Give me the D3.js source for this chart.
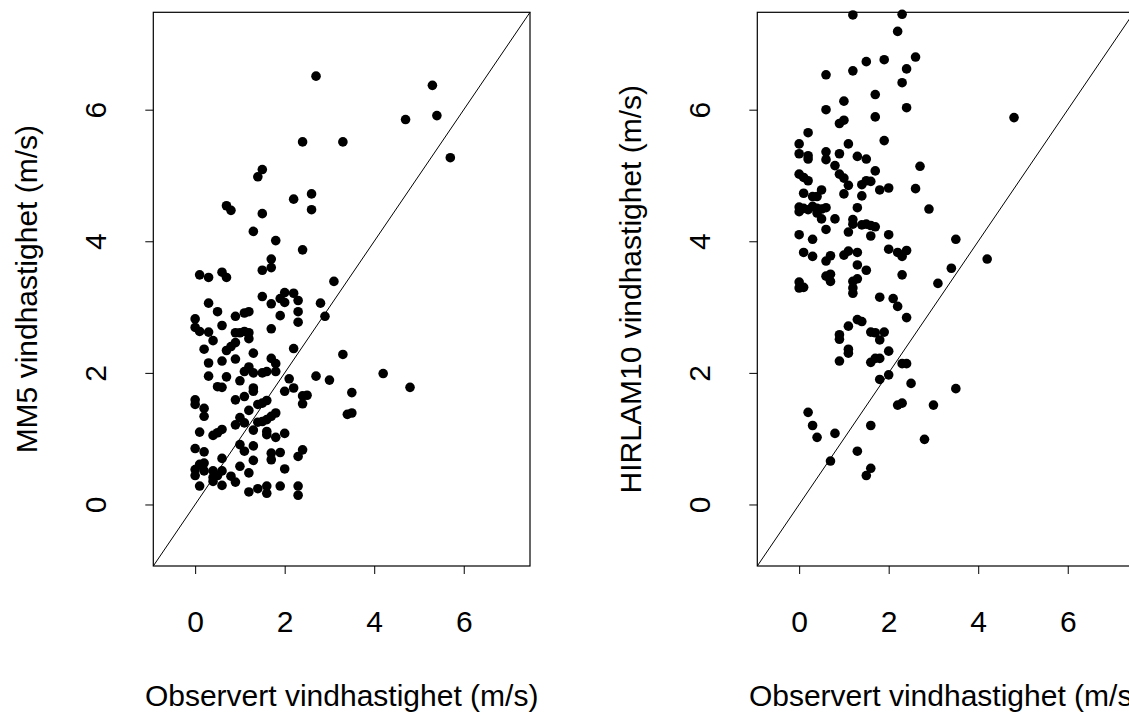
<!DOCTYPE html>
<html><head><meta charset="utf-8">
<script src="https://cdn.jsdelivr.net/npm/d3@7"></script>
<style>html,body{margin:0;padding:0;background:#fff;overflow:hidden}</style>
</head><body><svg id="chart" width="1129" height="713"></svg>
<script>
const tickValues = [0, 2, 4, 6];
const tickLabels = ["0", "2", "4", "6"];
const xTitle = "Observert vindhastighet (m/s)";
const yTitles = ["MM5 vindhastighet (m/s)", "HIRLAM10 vindhastighet (m/s)"];
const axisLimits = [-0.935, 7.48];

const mm5Obs = [2.7,5.3,4.7,5.4,2.4,3.3,5.7,1.5,1.4,2.6,2.2,2.6,0.7,0.8,1.5,1.3,1.8,2.4,1.7,1.7,1.5,0.1,0.3,0.6,0.7,3.1,1.5,2.0,2.2,1.9,2.0,2.3,1.7,2.8,0.3,0.5,0.9,1.1,1.2,1.9,2.3,2.9,2.3,0.0,0.0,0.1,0.3,0.6,1.7,0.9,1.0,1.1,1.2,1.2,0.4,0.9,0.8,0.7,0.2,2.2,1.3,3.3,1.7,0.3,0.6,0.9,1.8,1.2,1.1,1.3,1.5,1.6,1.8,0.3,0.7,1.0,2.1,2.7,3.0,4.2,4.8,0.5,0.6,1.3,1.3,2.2,2.0,3.5,0.9,1.1,0.0,0.0,0.2,0.2,1.6,1.4,1.5,1.2,2.4,2.5,2.4,1.8,1.7,1.6,1.5,1.4,1.0,1.1,0.9,1.3,1.6,1.6,1.8,2.0,3.4,3.5,0.1,0.4,0.5,0.6,0.0,0.2,1.0,1.1,1.3,1.3,1.7,1.7,1.9,2.3,2.4,0.6,1.0,1.2,2.0,0.0,0.0,0.1,0.2,0.2,0.4,0.4,0.5,0.4,0.6,0.8,0.9,0.1,0.6,1.2,1.4,1.6,1.6,1.9,2.3,2.3];
const mm5Model = [6.51,6.37,5.85,5.91,5.51,5.51,5.27,5.09,4.98,4.72,4.64,4.48,4.54,4.47,4.42,4.15,4.01,3.87,3.73,3.60,3.56,3.49,3.45,3.53,3.45,3.39,3.16,3.22,3.21,3.13,3.07,3.10,3.05,3.06,3.06,2.93,2.86,2.91,2.93,2.87,2.93,2.86,2.77,2.82,2.69,2.63,2.62,2.72,2.67,2.61,2.61,2.63,2.61,2.52,2.49,2.46,2.40,2.34,2.36,2.37,2.30,2.28,2.22,2.15,2.18,2.21,2.14,2.09,2.02,2.00,2.00,2.02,2.02,1.95,1.94,1.88,1.91,1.95,1.89,1.99,1.78,1.79,1.78,1.77,1.72,1.77,1.72,1.70,1.59,1.64,1.59,1.52,1.46,1.34,1.58,1.52,1.54,1.43,1.65,1.66,1.53,1.39,1.34,1.29,1.26,1.25,1.32,1.24,1.21,1.13,1.11,1.06,1.02,1.08,1.37,1.39,1.10,1.05,1.09,1.14,0.85,0.80,0.91,0.81,0.89,0.67,0.78,0.68,0.79,0.73,0.83,0.70,0.58,0.48,0.54,0.53,0.44,0.61,0.63,0.51,0.51,0.41,0.44,0.35,0.51,0.43,0.34,0.28,0.29,0.19,0.24,0.28,0.17,0.28,0.28,0.14];

const hirlamObs = [1.2,2.3,2.2,1.5,1.9,2.6,0.6,1.2,2.4,2.3,1.7,1.0,0.6,2.4,1.7,4.8,1.0,0.9,0.2,1.9,1.1,0.0,0.0,0.2,0.2,0.6,0.6,0.9,1.3,1.5,0.8,2.7,1.7,0.0,0.1,0.2,0.9,1.0,1.1,1.4,1.5,1.6,1.8,2.0,2.6,0.5,0.1,0.3,0.4,1.0,1.4,1.3,2.9,0.0,0.0,0.1,0.2,0.3,0.4,0.4,0.5,0.6,0.5,0.8,1.2,1.2,1.4,1.5,1.6,1.7,0.6,1.1,0.0,0.3,1.6,2.0,3.5,0.1,0.3,0.6,0.7,1.0,1.1,1.3,2.0,2.2,2.3,2.4,4.2,1.3,1.5,3.4,2.3,0.6,0.7,0.7,1.2,1.3,1.2,1.2,0.0,0.0,0.1,3.1,1.8,2.1,2.2,2.4,1.3,1.4,1.1,1.6,1.7,1.9,1.8,0.9,0.9,1.1,1.1,2.0,0.9,1.6,1.7,1.8,2.3,2.4,2.0,1.8,2.5,3.5,2.2,2.3,3.0,0.2,0.3,0.4,0.8,1.6,2.8,1.3,0.7,1.6,1.5];
const hirlamModel = [7.44,7.45,7.19,6.73,6.76,6.80,6.53,6.59,6.62,6.41,6.23,6.13,6.00,6.03,5.89,5.88,5.84,5.79,5.65,5.53,5.48,5.48,5.33,5.30,5.25,5.36,5.24,5.33,5.29,5.25,5.15,5.14,5.07,5.02,4.97,4.92,5.02,4.96,4.85,4.86,4.92,4.91,4.78,4.81,4.80,4.78,4.73,4.68,4.68,4.72,4.69,4.51,4.49,4.52,4.45,4.50,4.48,4.53,4.50,4.43,4.49,4.51,4.34,4.34,4.33,4.26,4.25,4.26,4.24,4.22,4.18,4.14,4.10,4.03,4.08,4.10,4.03,3.83,3.77,3.70,3.78,3.79,3.85,3.83,3.88,3.83,3.77,3.86,3.73,3.64,3.56,3.59,3.49,3.47,3.50,3.39,3.39,3.43,3.29,3.21,3.38,3.29,3.30,3.36,3.15,3.13,3.01,2.84,2.81,2.78,2.71,2.62,2.61,2.62,2.50,2.58,2.51,2.36,2.30,2.33,2.18,2.16,2.22,2.22,2.14,2.14,1.97,1.90,1.84,1.76,1.51,1.54,1.51,1.40,1.20,1.02,1.08,1.20,0.99,0.81,0.66,0.55,0.44];

const FONT = "'Liberation Sans', Arial, Helvetica, sans-serif";
const svg = d3.select("#chart");
svg.append("rect").attr("width", 1129).attr("height", 713).attr("fill", "#fff");

const panels = [
  {left: 153.3, obs: mm5Obs, mod: mm5Model, title: yTitles[0]},
  {left: 757.3, obs: hirlamObs, mod: hirlamModel, title: yTitles[1]}
];
const plotW = 376.7, plotTop = 12.3, plotBottom = 566;

panels.forEach(p => {
  const x = d3.scaleLinear().domain(axisLimits).range([p.left, p.left + plotW]);
  const y = d3.scaleLinear().domain(axisLimits).range([plotBottom, plotTop]);
  const g = svg.append("g");

  // points
  const pts = p.obs.map((o, i) => ({o, m: p.mod[i]}));
  g.append("g").selectAll("circle").data(pts).join("circle")
    .attr("cx", d => x(d.o)).attr("cy", d => y(d.m))
    .attr("r", 4.8).attr("fill", "#000");

  // 1:1 line corner to corner
  g.append("line")
    .attr("x1", x(axisLimits[0])).attr("y1", y(axisLimits[0]))
    .attr("x2", x(axisLimits[1])).attr("y2", y(axisLimits[1]))
    .attr("stroke", "#000").attr("stroke-width", 1);

  // box
  g.append("rect").attr("x", p.left).attr("y", plotTop)
    .attr("width", plotW).attr("height", plotBottom - plotTop)
    .attr("fill", "none").attr("stroke", "#000").attr("stroke-width", 1.2);

  // x axis
  const xa = g.append("g").attr("transform", `translate(0,${plotBottom})`)
    .call(d3.axisBottom(x).tickValues(tickValues).tickSize(8)
      .tickFormat((d, i) => tickLabels[i]));
  xa.select(".domain").remove();
  xa.selectAll("line").attr("stroke", "#000").attr("stroke-width", 1);
  xa.selectAll("text").attr("y", 632 - plotBottom).attr("dy", null)
    .attr("font-family", FONT).attr("font-size", 30).attr("fill", "#000");

  // y axis
  const ya = g.append("g").attr("transform", `translate(${p.left},0)`)
    .call(d3.axisLeft(y).tickValues(tickValues).tickSize(8)
      .tickFormat((d, i) => tickLabels[i]));
  ya.select(".domain").remove();
  ya.selectAll("line").attr("stroke", "#000").attr("stroke-width", 1);
  ya.selectAll("text").attr("x", null).attr("dy", null).attr("y", null)
    .attr("text-anchor", "middle")
    .attr("transform", "translate(-47.3,0) rotate(-90)")
    .attr("font-family", FONT).attr("font-size", 30).attr("fill", "#000");

  // titles
  g.append("text").attr("x", p.left + plotW / 2).attr("y", 706)
    .attr("text-anchor", "middle").attr("font-family", FONT).attr("font-size", 30)
    .attr("fill", "#000").text(xTitle);
  g.append("text")
    .attr("transform", `translate(${p.left - 116},${(plotTop + plotBottom) / 2}) rotate(-90)`)
    .attr("text-anchor", "middle").attr("font-family", FONT).attr("font-size", 30)
    .attr("fill", "#000").text(p.title);
});
</script></body></html>
